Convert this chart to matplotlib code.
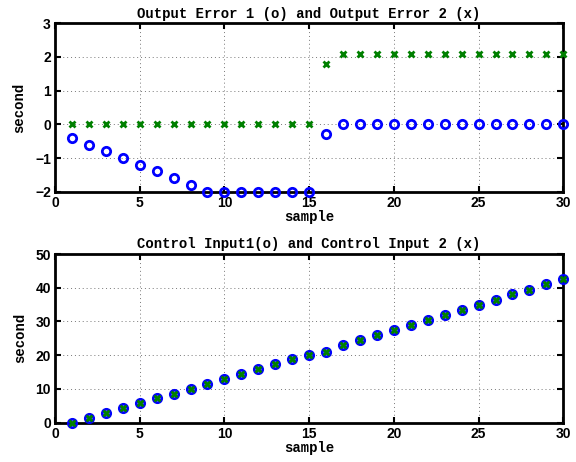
import numpy as np
import matplotlib.pyplot as plt

samples = np.arange(1, 31)

err1 = [-0.4, -0.6, -0.8, -1.0, -1.2, -1.4, -1.6, -1.8, -2.0, -2.0,
        -2.0, -2.0, -2.0, -2.0, -2.0, -0.3, 0, 0, 0, 0,
        0, 0, 0, 0, 0, 0, 0, 0, 0, 0]
err2 = [0, 0, 0, 0, 0, 0, 0, 0, 0, 0,
        0, 0, 0, 0, 0, 1.8, 2.1, 2.1, 2.1, 2.1,
        2.1, 2.1, 2.1, 2.1, 2.1, 2.1, 2.1, 2.1, 2.1, 2.1]

u1 = [0, 1.5, 3.0, 4.3, 5.8, 7.2, 8.5, 10.0, 11.4, 12.9,
      14.4, 15.9, 17.4, 18.9, 20.2, 21.1, 22.9, 24.5, 25.9, 27.5,
      29.0, 30.5, 32.0, 33.4, 35.0, 36.5, 38.0, 39.4, 41.0, 42.5]
u2 = u1

titles = ["Output Error 1 (o) and Output Error 2 (x)",
          "Control Input1(o) and Control Input 2 (x)"]

mono = "Liberation Mono"
sans = "Liberation Sans"

fig = plt.figure(figsize=(5.76, 4.62), dpi=100)
W, H = 576, 462
ax1 = fig.add_axes([55/W, 1-191.7/H, (563.3-55)/W, (191.7-23.3)/H])
ax2 = fig.add_axes([55/W, 1-422.7/H, (563.3-55)/W, (422.7-254)/H])


def style(ax, title, ylim, yticks):
    ax.set_xlim(0, 30)
    ax.set_ylim(*ylim)
    ax.set_xticks([0, 5, 10, 15, 20, 25, 30])
    ax.set_yticks(yticks)
    ax.grid(True, linestyle=(0, (1, 3)), color="#777777", linewidth=0.7)
    ax.set_axisbelow(True)
    for s in ax.spines.values():
        s.set_linewidth(2)
    ax.tick_params(direction="in", length=4, width=1.5, top=True, right=True,
                   labelsize=10, pad=3)
    for lab in ax.get_xticklabels() + ax.get_yticklabels():
        lab.set_fontfamily(sans)
        lab.set_fontweight("bold")
    ax.set_title(title, fontfamily=mono, fontweight="bold", fontsize=10, pad=4)
    ax.set_xlabel("sample", fontfamily=mono, fontweight="bold", fontsize=10, labelpad=0)
    ax.set_ylabel("second", fontfamily=mono, fontweight="bold", fontsize=10, labelpad=6)


ax1.plot(samples, err1, "o", mfc="none", mec="blue", mew=2, ms=6, clip_on=False, zorder=3)
ax1.plot(samples, err2, "x", color="green", mew=2, ms=4, clip_on=False, zorder=3)
style(ax1, titles[0], (-2, 3), [-2, -1, 0, 1, 2, 3])

ax2.plot(samples, u1, "o", mfc="none", mec="blue", mew=2, ms=6, clip_on=False, zorder=3)
ax2.plot(samples, u2, "x", color="green", mew=2, ms=4, clip_on=False, zorder=3)
style(ax2, titles[1], (0, 50), [0, 10, 20, 30, 40, 50])

fig.savefig("out.png", dpi=100)
